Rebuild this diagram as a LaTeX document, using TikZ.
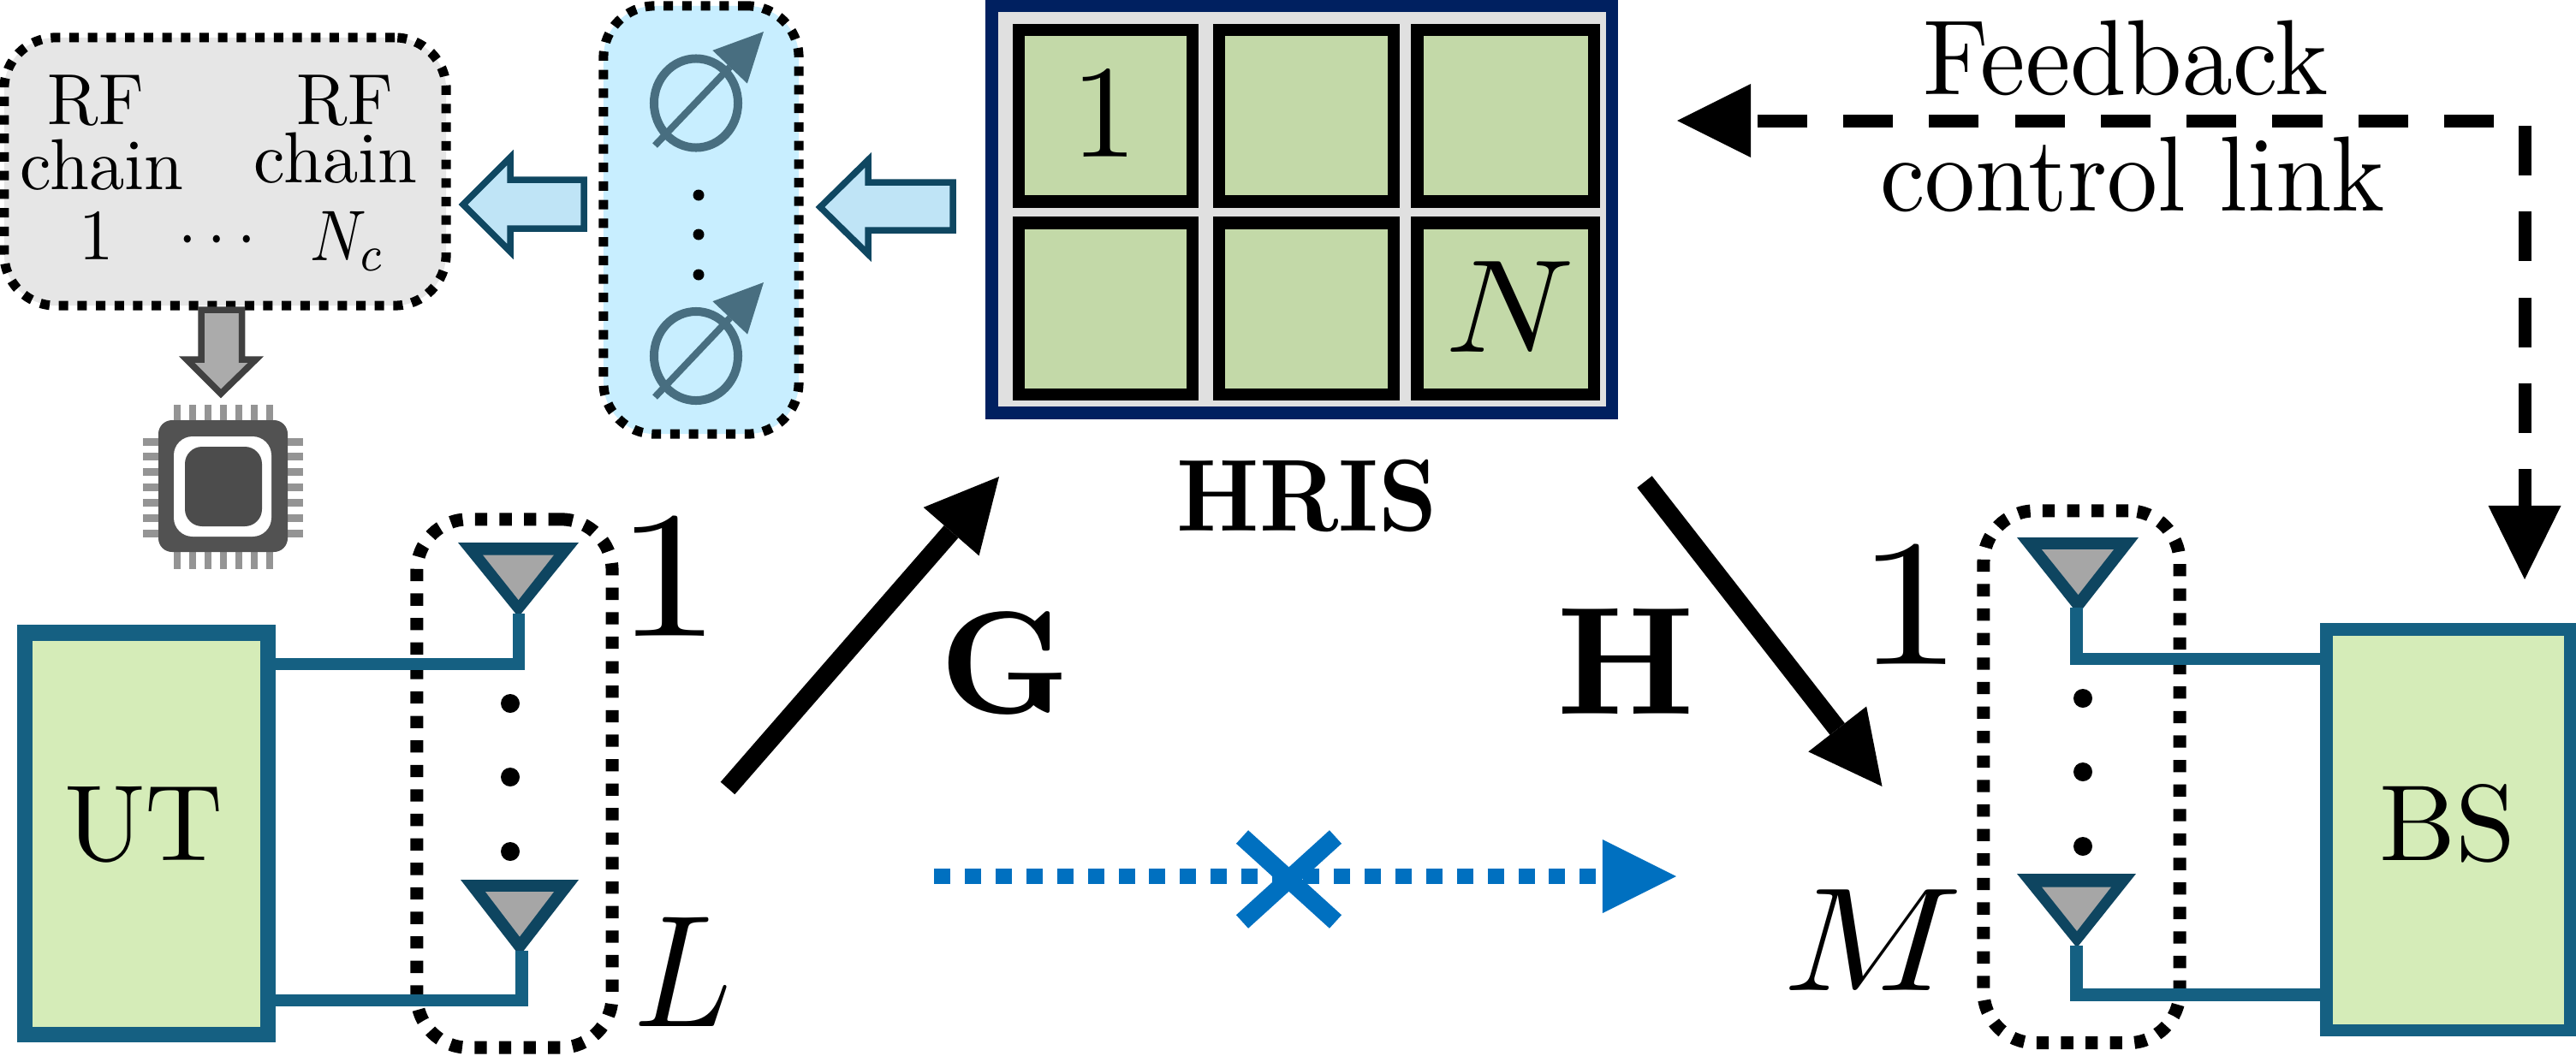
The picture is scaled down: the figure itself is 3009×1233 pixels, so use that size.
\documentclass[tikz,border=0pt]{standalone}
\usepackage{amsmath}
\usepackage{graphicx}
\usetikzlibrary{arrows.meta,shapes.geometric}
\definecolor{wireblue}{HTML}{156082}
\definecolor{antdark}{HTML}{0E4560}
\definecolor{antgray}{HTML}{A6A6A6}
\definecolor{utgreen}{HTML}{D5ECB8}
\definecolor{cellgreen}{HTML}{C3D9A8}
\definecolor{navyframe}{HTML}{002060}
\definecolor{panelgray}{HTML}{E0E0E0}
\definecolor{rfgray}{HTML}{E6E6E6}
\definecolor{psblue}{HTML}{C8EEFF}
\definecolor{psline}{HTML}{486E80}
\definecolor{blockfill}{HTML}{BFE4F6}
\definecolor{blockline}{HTML}{0F4761}
\definecolor{nolink}{HTML}{0070C0}
\newcommand{\sz}[3]{\scalebox{#1}[#2]{#3}}
\tikzset{
  x=0.01cm,y=-0.01cm,
  dotbox/.style={draw=black,line width=1.5mm,rounded corners=6mm,dash pattern=on 1.43mm off 1.43mm,inner sep=0,outer sep=0},
  smalldot/.style={dotbox,line width=1.1mm,dash pattern=on 1.1mm off 1.07mm},
  devbox/.style={draw=wireblue,fill=utgreen,inner sep=0,outer sep=0},
  cellbox/.style={draw=black,fill=cellgreen,line width=1.45mm,inner sep=0,outer sep=0,minimum height=20.05mm},
  wire/.style={draw=wireblue,line width=1.45mm,line join=miter},
  lab/.style={inner sep=0,outer sep=0,anchor=base},
  dotmark/.style={fill=black},
  blockarrow/.style={draw=blockline,fill=blockfill,line width=0.75mm,line join=miter},
  grayarrow/.style={draw=black!75,fill=black!33,line width=0.75mm,line join=miter},
  thickarrow/.style={line width=2.2mm,-{Triangle[length=8.5mm,width=8.6mm,line width=0pt]}},
  psring/.style={ellipse,draw=psline,line width=1mm,inner sep=0,outer sep=0,minimum width=9.8mm,minimum height=10.4mm},
  psarrow/.style={draw=psline,line width=0.8mm,-{Triangle[length=5.7mm,width=5.6mm,line width=0pt]}},
  pin/.style={fill=black!42},
}
\begin{document}
\begin{tikzpicture}
\useasboundingbox (0,0) rectangle (3009,1233);

% RF chain box and phase-shifter box
\node[smalldot,fill=rfgray,minimum width=51.6mm,minimum height=31.3mm] (rf) at (263,200.5) {};
\node[smalldot,fill=psblue,minimum width=22.8mm,minimum height=50mm] (ps) at (819,257) {};

% RF labels
\node[lab] (rfa) at (112,145) {\sz{2.3}{2.4}{RF}};
\node[lab] (cha) at (119,221) {\sz{2.35}{2.4}{chain}};
\node[lab] (onea) at (113,303) {\sz{2.3}{2.4}{1}};
\node[lab] (dotsrf) at (260,300) {\sz{2.2}{2.38}{$\cdots$}};
\node[lab] (rfb) at (403,145) {\sz{2.3}{2.4}{RF}};
\node[lab] (chb) at (392,213) {\sz{2.35}{2.4}{chain}};
\node[lab] (ncb) at (406,304) {\sz{2.05}{2.38}{$N_c$}};

% block arrows
\draw[blockarrow] (541,239) -- (596,184) -- (596,210) -- (682,210) -- (682,267) -- (596,267) -- (596,294) -- cycle;
\draw[blockarrow] (958,242) -- (1014,187) -- (1014,213) -- (1113,213) -- (1113,269) -- (1014,269) -- (1014,297) -- cycle;
\draw[grayarrow] (235,362) -- (282.5,362) -- (282.5,420) -- (299,420) -- (258,460) -- (218,420) -- (235,420) -- cycle;

% chip
\foreach \t in {0,...,6} {
  \fill[pin] ({207+\t*18-4},473) rectangle ({207+\t*18+4},665);
  \fill[pin] (167,{516+\t*17.9-4.5}) rectangle (354,{516+\t*17.9+4.5});
}
\fill[black!68,rounded corners=1.6mm] (185,491) rectangle (336,645);
\fill[white,rounded corners=2.2mm] (203,510) rectangle (317,627);
\fill[black!70,rounded corners=2mm] (216,522) rectangle (306,615);

% phase shifters
\node[psring] (ps1) at (813,120.5) {};
\node[psring] (ps2) at (813,416) {};
\coordinate (ps1a) at (765,170);
\coordinate (ps1b) at (892,37);
\coordinate (ps2a) at (765,464);
\coordinate (ps2b) at (892,330);
\draw[psarrow] (ps1a) -- (ps1b);
\draw[psarrow] (ps2a) -- (ps2b);
\foreach \yy in {228,274,321} \fill[dotmark] (816,\yy) circle (0.65mm);

% HRIS
\node[draw=navyframe,fill=panelgray,line width=1.45mm,inner sep=0,outer sep=0,minimum width=72.45mm,minimum height=47.55mm] (hris) at (1520.75,244.75) {};
\node[cellbox,minimum width=20.3mm] (c11) at (1291.5,135.25) {};
\node[cellbox,minimum width=20.4mm] (c12) at (1526,135.25) {};
\node[cellbox,minimum width=20.65mm] (c13) at (1758.75,135.25) {};
\node[cellbox,minimum width=20.3mm] (c21) at (1291.5,360.75) {};
\node[cellbox,minimum width=20.4mm] (c22) at (1526,360.75) {};
\node[cellbox,minimum width=20.65mm] (c23) at (1758.75,360.75) {};
\node[lab] (one) at (1290,183) {\sz{4.4}{4.4}{1}};
\node[lab] (enn) at (1764,411.6) {\sz{4.7}{4.4}{$N$}};
\node[lab,font=\bfseries] (hrisl) at (1527,620) {\sz{3.05}{3.4}{HRIS}};

% Feedback
\node[lab] (fb) at (2483,110) {\sz{3.35}{3.55}{Feedback}};
\node[lab] (fc) at (2491,246) {\sz{3.35}{3.55}{control link}};
\coordinate (fbh) at (2913,141);
\coordinate (fbt) at (1959,141);
\coordinate (fbv) at (2949,147);
\draw[line width=1.5mm,dash pattern=on 5.8mm off 4.22mm,-{Triangle[length=8.6mm,width=8.6mm,line width=0pt]}] (fbh) -- (fbt);

% UT, BS
\node[devbox,line width=1.85mm,minimum width=28.4mm,minimum height=46.95mm] (ut) at (171,974.25) {};
\node[lab] (utl) at (168,1005) {\sz{3.59}{3.59}{UT}};
\node[devbox,line width=1.45mm,minimum width=28.45mm,minimum height=46.85mm] (bs) at (2859.75,969.75) {};
\node[lab] (bsl) at (2859,1005) {\sz{3.59}{3.59}{BS}};
\coordinate (fbve) at (2949,677);
\draw[line width=1.5mm,dash pattern=on 5.8mm off 4.23mm,-{Triangle[length=8.6mm,width=8.5mm,line width=0pt]}] (fbv) -- (fbve);

% left array
\node[dotbox,minimum width=22.8mm,minimum height=61.7mm] (larr) at (601,915.5) {};
\fill[antdark] (535,634) -- (676,634) -- (605.6,721) -- cycle;
\fill[antgray] (564,648.5) -- (647,648.5) -- (605.6,701) -- cycle;
\fill[antdark] (538,1028) -- (676,1028) -- (607,1117) -- cycle;
\fill[antgray] (567,1042) -- (647,1042) -- (607,1094.5) -- cycle;
\coordinate (la1) at (606,717);
\coordinate (la1c) at (606,776);
\coordinate (la2) at (609.5,1111);
\coordinate (la2c) at (609.5,1169);
\draw[wire] (ut.east |- la1c) -- (la1c) -- (la1);
\draw[wire] (ut.east |- la2c) -- (la2c) -- (la2);
\foreach \yy in {822,908,995} \fill[dotmark] (596,\yy) circle (1.1mm);

% right array
\node[dotbox,minimum width=22.9mm,minimum height=62.15mm] (rarr) at (2431.5,907.75) {};
\fill[antdark] (2356,628) -- (2498,628) -- (2427.5,718) -- cycle;
\fill[antgray] (2385,642) -- (2469,642) -- (2427.5,695) -- cycle;
\fill[antdark] (2356,1021) -- (2495,1021) -- (2426,1107.5) -- cycle;
\fill[antgray] (2385,1036.5) -- (2466,1036.5) -- (2426,1088) -- cycle;
\coordinate (ra1) at (2425.5,710);
\coordinate (ra1c) at (2425.5,770);
\coordinate (ra2) at (2425.5,1105);
\coordinate (ra2c) at (2425.5,1162.5);
\draw[wire] (bs.west |- ra1c) -- (ra1c) -- (ra1);
\draw[wire] (bs.west |- ra2c) -- (ra2c) -- (ra2);
\foreach \yy in {816,902,989} \fill[dotmark] (2433,\yy) circle (1.1mm);

% channel arrows
\coordinate (gs) at (850,921);
\coordinate (ge) at (1167,557);
\coordinate (hs) at (1921,563);
\coordinate (he) at (2198.5,919);
\draw[thickarrow] (gs) -- (ge);
\draw[thickarrow] (hs) -- (he);
\node[lab] (gl) at (1174,833) {\sz{4.8}{4.85}{$\mathbf{G}$}};
\node[lab] (hl) at (1899,834) {\sz{5.1}{5.1}{$\mathbf{H}$}};

% blocked direct link
\coordinate (ns) at (1091,1024);
\coordinate (ne) at (1958,1024);
\draw[nolink,line width=1.8mm,dash pattern=on 1.9mm off 1.69mm,-{Triangle[length=8.6mm,width=8.6mm,line width=0pt]}] (ns) -- (ne);
\coordinate (x1) at (1451,978);
\coordinate (x2) at (1560,1077);
\coordinate (x3) at (1560,978);
\coordinate (x4) at (1451,1077);
\draw[nolink,line width=2.1mm] (x1) -- (x2);
\draw[nolink,line width=2.1mm] (x3) -- (x4);

% index labels
\node[lab] (l1) at (781,743) {\sz{7.0}{6.0}{1}};
\node[lab] (ll) at (798,1199) {\sz{4.8}{5.3}{$L$}};
\node[lab] (r1) at (2231,776.5) {\sz{7.0}{6.0}{1}};
\node[lab] (rm) at (2188,1157.6) {\sz{5.55}{4.9}{$M$}};
\end{tikzpicture}
\end{document}
